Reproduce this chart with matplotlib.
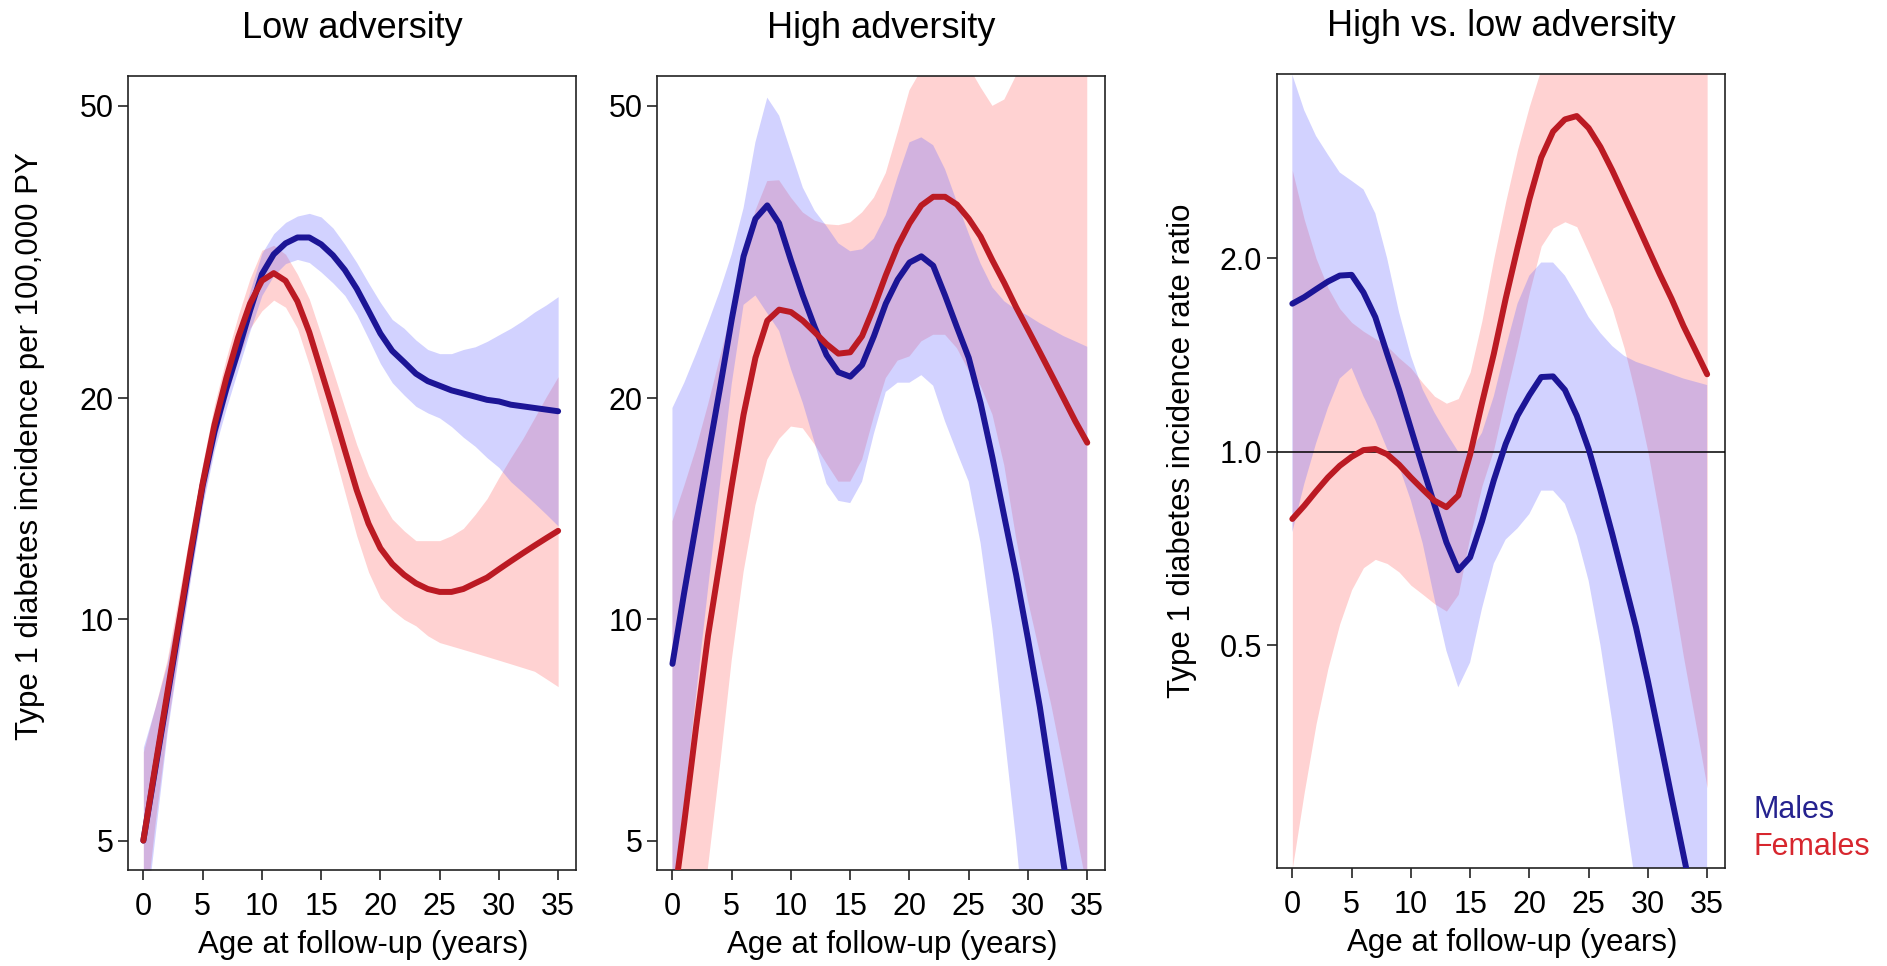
import matplotlib

matplotlib.use("Agg")

import matplotlib.pyplot as plt
from matplotlib.ticker import FixedFormatter, FixedLocator, NullLocator

plt.rcParams["font.family"] = ["Liberation Sans", "DejaVu Sans"]

# Age at follow-up (years), one value per year
AGE = list(range(0, 36))

# Low adversity: incidence per 100,000 PY (fit and 95% band)
low_male = [5.0, 6.25, 7.8, 9.75, 12.2, 15.2, 18.0, 20.6, 23.2, 26.3, 29.5, 31.4,
            32.5, 33.1, 33.1, 32.4, 31.3, 29.9, 28.2, 26.3, 24.5, 23.2, 22.4, 21.6,
            21.1, 20.8, 20.5, 20.3, 20.1, 19.9, 19.8, 19.6, 19.5, 19.4, 19.3, 19.2]
low_male_lo = [3.7, 5.1, 7.0, 9.0, 11.4, 14.3, 17.0, 19.4, 21.9, 24.7, 27.6, 29.4,
               30.5, 30.9, 30.6, 29.7, 28.7, 27.6, 26.0, 24.1, 22.3, 21.0, 20.2, 19.5,
               19.1, 18.8, 18.3, 17.7, 17.2, 16.6, 16.1, 15.4, 14.9, 14.4, 13.9, 13.4]
low_male_hi = [6.7, 7.6, 8.7, 10.5, 13.1, 16.2, 19.1, 21.8, 24.6, 28.0, 31.5, 33.5,
               34.7, 35.4, 35.7, 35.3, 34.1, 32.4, 30.6, 28.7, 27.0, 25.6, 24.9, 24.0,
               23.3, 23.0, 23.0, 23.3, 23.5, 23.9, 24.4, 24.9, 25.5, 26.2, 26.8, 27.5]
low_female = [5.0, 6.3, 7.9, 9.9, 12.4, 15.3, 18.4, 21.3, 24.2, 26.9, 28.9, 29.6,
              28.9, 27.1, 24.6, 21.8, 19.3, 17.0, 15.0, 13.5, 12.5, 11.9, 11.5, 11.2,
              11.0, 10.9, 10.9, 11.0, 11.2, 11.4, 11.7, 12.0, 12.3, 12.6, 12.9, 13.2]
low_female_lo = [3.8, 5.3, 7.1, 9.1, 11.5, 14.4, 17.3, 20.0, 22.6, 24.9, 26.3, 27.2,
                 26.6, 24.9, 22.2, 19.5, 17.1, 14.9, 13.0, 11.6, 10.7, 10.3, 10.0, 9.8,
                 9.5, 9.3, 9.2, 9.1, 9.0, 8.9, 8.8, 8.7, 8.6, 8.5, 8.3, 8.1]
low_female_hi = [6.6, 7.6, 8.8, 10.8, 13.3, 16.3, 19.6, 22.7, 25.9, 29.1, 31.8, 32.3,
                 31.4, 29.5, 27.3, 24.4, 21.8, 19.4, 17.3, 15.7, 14.6, 13.7, 13.2, 12.8,
                 12.8, 12.8, 13.0, 13.3, 13.9, 14.6, 15.6, 16.6, 17.6, 18.8, 20.1, 21.4]

# High adversity: incidence per 100,000 PY (fit and 95% band)
high_male = [8.7, 10.9, 13.5, 16.7, 20.6, 25.6, 31.2, 35.1, 36.6, 34.6, 30.8, 27.6,
             25.0, 22.9, 21.7, 21.4, 22.2, 24.3, 26.9, 29.0, 30.6, 31.2, 30.3, 27.6,
             25.0, 22.7, 19.7, 16.6, 13.8, 11.5, 9.4, 7.6, 5.95, 4.65, 3.7, 2.95]
high_male_lo = [3.9, 5.66, 7.9, 11.0, 15.2, 20.9, 26.8, 27.6, 26.1, 24.7, 21.9, 19.7,
                17.4, 15.3, 14.5, 14.4, 15.4, 17.9, 20.4, 21.0, 21.0, 21.5, 20.8, 18.6,
                16.9, 15.4, 12.7, 9.7, 7.0, 5.0, 3.4, 2.3, 1.43, 0.89, 0.57, 0.37]
high_male_hi = [19.4, 21.0, 23.0, 25.3, 28.0, 31.4, 36.3, 44.6, 51.3, 48.5, 43.3, 38.7,
                36.0, 34.3, 32.5, 31.7, 31.9, 33.0, 35.5, 40.0, 44.6, 45.3, 44.2, 41.0,
                37.0, 33.5, 30.5, 28.3, 27.1, 26.4, 25.9, 25.3, 24.8, 24.3, 23.9, 23.5]
high_female = [4.0, 5.3, 7.15, 9.5, 12.0, 15.2, 19.0, 22.7, 25.5, 26.4, 26.2, 25.5,
               24.6, 23.7, 23.0, 23.1, 24.3, 26.6, 29.4, 32.2, 34.6, 36.6, 37.6, 37.6,
               36.7, 35.1, 33.2, 30.8, 28.7, 26.6, 24.8, 23.1, 21.5, 20.0, 18.6, 17.4]
high_female_lo = [1.18, 1.85, 2.99, 4.6, 6.3, 8.8, 11.6, 14.3, 16.5, 17.6, 18.3, 18.2,
                  17.3, 16.3, 15.4, 15.4, 16.5, 18.9, 21.3, 22.5, 22.8, 23.9, 24.4, 24.4,
                  23.4, 21.8, 20.8, 19.0, 16.2, 12.9, 10.6, 9.0, 7.6, 6.3, 5.2, 4.3]
high_female_hi = [13.6, 15.2, 17.1, 19.6, 22.7, 26.3, 31.0, 36.0, 39.5, 39.6, 37.5, 35.8,
                  34.9, 34.5, 34.4, 34.7, 35.8, 37.5, 40.5, 46.0, 52.5, 56.0, 58.0, 58.0,
                  57.5, 56.5, 53.0, 50.0, 51.0, 55.0, 58.0, 59.5, 61.0, 63.5, 66.5, 70.0]

# High vs. low adversity: incidence rate ratio (fit and 95% band)
ratio_male = [1.70, 1.74, 1.79, 1.84, 1.88, 1.885, 1.77, 1.62, 1.42, 1.25, 1.087, 0.946,
              0.826, 0.723, 0.654, 0.685, 0.779, 0.903, 1.028, 1.138, 1.225, 1.307, 1.31, 1.248,
              1.138, 1.01, 0.871, 0.744, 0.63, 0.533, 0.44, 0.358, 0.29, 0.236, 0.192, 0.157]
ratio_male_lo = [0.75, 0.89, 1.03, 1.17, 1.30, 1.35, 1.22, 1.12, 1.01, 0.95, 0.84, 0.72,
                 0.59, 0.49, 0.43, 0.47, 0.57, 0.67, 0.73, 0.76, 0.80, 0.87, 0.87, 0.83,
                 0.74, 0.63, 0.50, 0.38, 0.28, 0.21, 0.14, 0.096, 0.064, 0.043, 0.029, 0.019]
ratio_male_hi = [3.86, 3.4, 3.1, 2.9, 2.72, 2.64, 2.56, 2.35, 2.0, 1.65, 1.41, 1.25,
                 1.15, 1.07, 1.0, 1.0, 1.07, 1.22, 1.45, 1.7, 1.88, 1.97, 1.97, 1.88,
                 1.75, 1.62, 1.53, 1.46, 1.41, 1.38, 1.36, 1.34, 1.32, 1.30, 1.285, 1.27]
ratio_female = [0.786, 0.824, 0.868, 0.912, 0.951, 0.982, 1.006, 1.01, 0.991, 0.955, 0.912, 0.874,
                0.839, 0.82, 0.855, 0.99, 1.19, 1.42, 1.73, 2.075, 2.47, 2.87, 3.15, 3.29,
                3.33, 3.19, 2.98, 2.74, 2.50, 2.28, 2.075, 1.89, 1.73, 1.57, 1.44, 1.32]
ratio_female_lo = [0.225, 0.295, 0.377, 0.46, 0.54, 0.61, 0.66, 0.68, 0.67, 0.65, 0.62, 0.60,
                   0.58, 0.565, 0.60, 0.74, 0.885, 1.01, 1.22, 1.46, 1.77, 2.09, 2.23, 2.28,
                   2.24, 2.04, 1.85, 1.67, 1.45, 1.22, 1.0, 0.79, 0.62, 0.48, 0.38, 0.30]
ratio_female_hi = [2.74, 2.3, 2.0, 1.8, 1.67, 1.59, 1.54, 1.5, 1.46, 1.40, 1.35, 1.28,
                   1.22, 1.19, 1.21, 1.33, 1.6, 2.0, 2.45, 2.95, 3.45, 3.95, 4.45, 4.75,
                   4.95, 5.0, 4.8, 4.5, 4.3, 4.25, 4.3, 4.5, 4.8, 5.1, 5.45, 5.8]

incidence_ticks = [5, 10, 20, 50]
incidence_labels = ["5", "10", "20", "50"]
ratio_ticks = [0.5, 1.0, 2.0]
ratio_labels = ["0.5", "1.0", "2.0"]
age_ticks = [0, 5, 10, 15, 20, 25, 30, 35]

MALE_LINE = "#1c1596"
FEMALE_LINE = "#bb1a23"
MALE_FILL = "#6b6bff"
FEMALE_FILL = "#ff6b6b"
SPINE = "#222222"


def draw_panel(ax, title, male, male_lo, male_hi, female, female_lo, female_hi,
               ylim, yticks, ylabels):
    ax.fill_between(AGE, female_lo, female_hi, color=FEMALE_FILL, alpha=0.3,
                    linewidth=0, zorder=1)
    ax.fill_between(AGE, male_lo, male_hi, color=MALE_FILL, alpha=0.3,
                    linewidth=0, zorder=2)
    ax.plot(AGE, male, color=MALE_LINE, linewidth=4.3, solid_capstyle="round",
            solid_joinstyle="round", zorder=4)
    ax.plot(AGE, female, color=FEMALE_LINE, linewidth=4.3, solid_capstyle="round",
            solid_joinstyle="round", zorder=5)

    ax.set_yscale("log")
    ax.set_xlim(-1.3, 36.5)
    ax.set_ylim(*ylim)
    ax.set_xticks(age_ticks)
    ax.set_xticklabels([str(t) for t in age_ticks])
    ax.yaxis.set_major_locator(FixedLocator(yticks))
    ax.yaxis.set_major_formatter(FixedFormatter(ylabels))
    ax.yaxis.set_minor_locator(NullLocator())

    ax.tick_params(axis="both", which="major", direction="out", length=7.5,
                   width=1.2, color=SPINE, labelsize=22)
    ax.tick_params(axis="x", pad=8)
    ax.tick_params(axis="y", pad=3)
    for spine in ax.spines.values():
        spine.set_color(SPINE)
        spine.set_linewidth(1.2)

    ax.text(0.5, 1.0595, title, transform=ax.transAxes, ha="center", va="center",
            fontsize=26)
    ax.set_xlabel("Age at follow-up (years)", fontsize=22.5)
    ax.xaxis.label.set_verticalalignment("center")
    ax.xaxis.set_label_coords(0.525, -0.0945)


def main():
    fig = plt.figure(figsize=(18.87, 9.66), dpi=100)

    ax1 = fig.add_axes([0.0678, 0.0994, 0.2374, 0.8219])
    ax2 = fig.add_axes([0.3482, 0.0994, 0.2374, 0.8219])
    ax3 = fig.add_axes([0.6767, 0.1014, 0.2374, 0.8219])

    draw_panel(ax1, "Low adversity", low_male, low_male_lo, low_male_hi,
               low_female, low_female_lo, low_female_hi,
               (4.56, 54.9), incidence_ticks, incidence_labels)
    ax1.set_ylabel("Type 1 diabetes incidence per 100,000 PY", fontsize=22.5)
    ax1.yaxis.label.set_verticalalignment("center")
    ax1.yaxis.set_label_coords(-0.219, 0.534)

    draw_panel(ax2, "High adversity", high_male, high_male_lo, high_male_hi,
               high_female, high_female_lo, high_female_hi,
               (4.56, 54.9), incidence_ticks, incidence_labels)

    draw_panel(ax3, "High vs. low adversity", ratio_male, ratio_male_lo, ratio_male_hi,
               ratio_female, ratio_female_lo, ratio_female_hi,
               (0.225, 3.87), ratio_ticks, ratio_labels)
    ax3.axhline(1.0, color="black", linewidth=1.1, zorder=3)
    ax3.set_ylabel("Type 1 diabetes incidence rate ratio", fontsize=22.5)
    ax3.yaxis.label.set_verticalalignment("center")
    ax3.yaxis.set_label_coords(-0.213, 0.526)

    fig.text(0.929, 0.1615, "Males", color="#25228f", fontsize=22,
             ha="left", va="center")
    fig.text(0.929, 0.1232, "Females", color="#d7262e", fontsize=22,
             ha="left", va="center")

    fig.savefig("out.png", dpi=100)


if __name__ == "__main__":
    main()
